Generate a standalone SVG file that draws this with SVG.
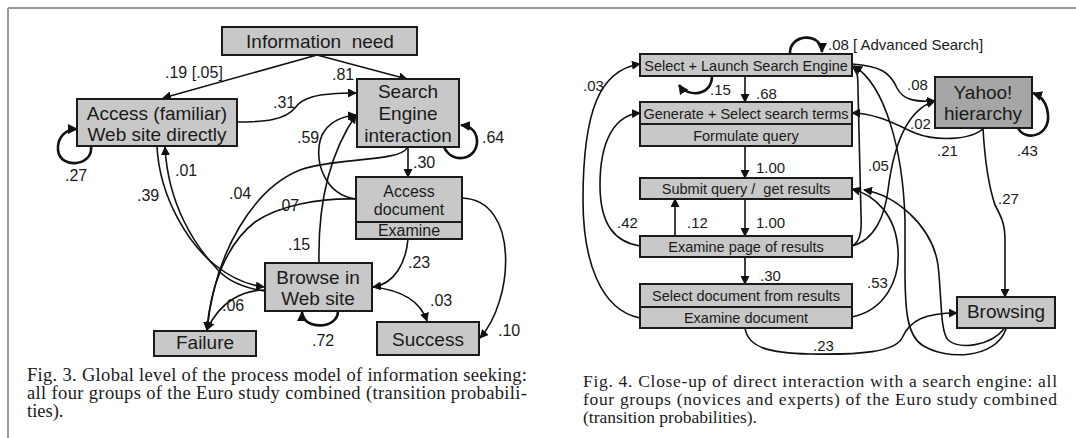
<svg xmlns="http://www.w3.org/2000/svg" width="1076" height="438" viewBox="0 0 1076 438">
  <style>
    .box { fill: #c8c8c8; stroke: #1a1a1a; stroke-width: 2; }
    .dark { fill: #a6a6a6; stroke: #1a1a1a; stroke-width: 2; }
    .big { font-family: "Liberation Sans", Arial, sans-serif; font-size: 19px; fill: #1a1a1a; text-anchor: middle; }
    .mid { font-family: "Liberation Sans", Arial, sans-serif; font-size: 16px; fill: #1a1a1a; text-anchor: middle; }
    .small { font-family: "Liberation Sans", Arial, sans-serif; font-size: 14.5px; fill: #1a1a1a; text-anchor: middle; }
    .lbl { font-family: "Liberation Sans", Arial, sans-serif; font-size: 16px; fill: #1a1a1a; }
    .lbr { font-family: "Liberation Sans", Arial, sans-serif; font-size: 15px; fill: #1a1a1a; }
    .cap3 { font-family: "Liberation Serif", "Times New Roman", serif; font-size: 18.5px; fill: #1a1a1a; }
    .cap4 { font-family: "Liberation Serif", "Times New Roman", serif; font-size: 17.5px; fill: #1a1a1a; }
    .edge { fill: none; stroke: #111; stroke-width: 1.6; }
    .arr { marker-end: url(#ah); }
    .loop { fill: none; stroke: #111; stroke-width: 2.6; marker-end: url(#ahb); }
  </style>
  <defs>
    <marker id="ah" viewBox="0 0 10 10" refX="9" refY="5" markerWidth="9" markerHeight="9" markerUnits="userSpaceOnUse" orient="auto">
      <path d="M0,0 L10,5 L0,10 Z" fill="#111"/>
    </marker>
    <marker id="ahb" viewBox="0 0 10 10" refX="9" refY="5" markerWidth="10" markerHeight="10" markerUnits="userSpaceOnUse" orient="auto">
      <path d="M0,0 L10,5 L0,10 Z" fill="#111"/>
    </marker>
  </defs>

  <rect width="1076" height="438" fill="#ffffff"/>
  <!-- page frame -->
  <g stroke="#9a9a9a" stroke-width="2" fill="none">
    <path d="M8,8 L1076,8"/>
    <path d="M8,8 L8,438"/>
  </g>

  <!-- ===== Fig. 3 : global process model ===== -->
  <g id="connectors-fig3">
    <path class="edge arr" d="M317,55 L163,98"/>
    <path class="edge arr" d="M317,55 L407,79"/>
    <path class="edge arr" d="M237,122 C265,122 285,120 295,108 C302,98 315,93 356,93"/>
    <path class="loop" d="M91,146 C94,166 60,170 58,150 C57,137 66,129 77,129"/>
    <path class="loop" d="M444,147 C452,165 478,160 477,140 C476,130 470,126 461,125"/>
    <path class="edge arr" d="M408,147 L408,177"/>
    <path class="edge arr" d="M407,148 C400,162 330,158 300,170 C255,188 215,250 207,330"/>
    <path class="edge arr" d="M356,199 C320,198 280,205 255,222 C225,245 210,290 207,330"/>
    <path class="edge arr" d="M265,290 C245,290 220,300 207,330"/>
    <path class="edge arr" d="M157,147 C160,200 190,245 215,265 C230,277 248,285 264,287"/>
    <path class="edge arr" d="M264,291 C245,288 228,281 218,270 C195,246 168,205 165,147"/>
    <path class="edge arr" d="M356,199 C325,195 312,160 322,135 C330,120 345,116 356,115"/>
    <path class="edge arr" d="M319,263 C318,215 325,160 356,115"/>
    <path class="edge arr" d="M408,239 C406,262 395,284 373,287"/>
    <path class="edge arr" d="M373,287 C400,290 420,300 427,321"/>
    <path class="edge arr" d="M462,198 C520,200 514,300 480,338"/>
    <path class="loop" d="M338,311 C338,330 302,330 302,312"/>
  </g>

  <g id="info-need">
    <rect class="box" x="222" y="27" width="195" height="28"/>
    <text class="big" x="320" y="48">Information&#160; need</text>
  </g>
  <g id="access-site">
    <rect class="box" x="77" y="99" width="160" height="47"/>
    <text class="big" x="157" y="120">Access (familiar)</text>
    <text class="big" x="157" y="141">Web site directly</text>
  </g>
  <g id="search-engine">
    <rect class="box" x="357" y="79" width="102" height="68"/>
    <text class="big" x="408" y="98">Search</text>
    <text class="big" x="408" y="120">Engine</text>
    <text class="big" x="408" y="142">interaction</text>
  </g>
  <g id="access-document">
    <rect class="box" x="356" y="177" width="106" height="45"/>
    <rect class="box" x="356" y="222" width="106" height="17"/>
    <text class="mid" x="409" y="197">Access</text>
    <text class="mid" x="409" y="215">document</text>
    <text class="mid" x="409" y="236">Examine</text>
  </g>
  <g id="browse-site">
    <rect class="box" x="265" y="263" width="107" height="48"/>
    <text class="big" x="318" y="284">Browse in</text>
    <text class="big" x="318" y="305">Web site</text>
  </g>
  <g id="failure">
    <rect class="box" x="154" y="331" width="102" height="25"/>
    <text class="big" x="205" y="349">Failure</text>
  </g>
  <g id="success">
    <rect class="box" x="377" y="322" width="102" height="33"/>
    <text class="big" x="428" y="346">Success</text>
  </g>

  <g id="labels-fig3" class="lbl">
    <text x="165" y="78">.19 [.05]</text>
    <text x="332" y="80">.81</text>
    <text x="273" y="108">.31</text>
    <text x="65" y="181">.27</text>
    <text x="482" y="143">.64</text>
    <text x="297" y="143">.59</text>
    <text x="413" y="168">.30</text>
    <text x="175" y="176">.01</text>
    <text x="137" y="201">.39</text>
    <text x="229" y="199">.04</text>
    <text x="277" y="211">.07</text>
    <text x="288" y="250">.15</text>
    <text x="408" y="268">.23</text>
    <text x="430" y="306">.03</text>
    <text x="222" y="311">.06</text>
    <text x="312" y="346">.72</text>
    <text x="498" y="336">.10</text>
  </g>

  <g id="caption-fig3" class="cap3">
    <text x="27" y="381" textLength="500" lengthAdjust="spacing">Fig. 3. Global level of the process model of information seeking:</text>
    <text x="27" y="399" textLength="500" lengthAdjust="spacing">all four groups of the Euro study combined (transition probabili-</text>
    <text x="27" y="417">ties).</text>
  </g>

  <!-- ===== Fig. 4 : search engine close-up ===== -->
  <g id="connectors-fig4">
    <path class="loop" d="M790,54 C789,33 822,32 822,52"/>
    <path class="loop" d="M712,76 C712,96 688,98 679,85"/>
    <path class="edge arr" d="M745,76 L745,102"/>
    <path class="edge arr" d="M745,146 L745,178"/>
    <path class="edge arr" d="M745,199 L745,236"/>
    <path class="edge arr" d="M675,236 L675,199"/>
    <path class="edge arr" d="M745,257 L745,284"/>
    <path class="edge arr" d="M640,246 C615,242 600,225 600,185 C600,140 615,115 640,113"/>
    <path class="edge arr" d="M640,318 C600,310 583,260 583,200 C583,110 600,70 640,64"/>
    <path class="edge arr" d="M852,64 C880,66 890,72 897,88 C903,100 915,102 935,101"/>
    <path class="loop" d="M1018,128 C1025,142 1050,136 1048,115 C1047,103 1041,96 1033,93"/>
    <path class="edge arr" d="M984,128 C970,141 935,141 915,133 C895,124 875,113 852,113"/>
    <path class="edge arr" d="M983,128 C985,165 990,190 995,205 C1002,218 1005,225 1005,240 L1005,297"/>
    <path class="edge arr" d="M852,246 C875,240 885,215 888,190 C893,150 905,110 935,101"/>
    <path class="edge arr" d="M852,246 C860,242 862,232 861,215 L858,90 C858,78 858,70 852,66"/>
    <path class="edge arr" d="M852,317 C885,310 900,280 898,250 C896,215 875,195 852,189"/>
    <path class="edge arr" d="M1004,329 C990,346 960,350 948,340 C940,330 942,300 938,265 C932,225 895,195 864,190"/>
    <path class="edge arr" d="M1006,329 C995,360 945,360 922,345 C907,335 905,310 905,270 L905,220 C903,150 885,85 854,66"/>
    <path class="edge arr" d="M745,328 C748,348 770,353 810,354 C860,355 895,352 902,338 C910,320 925,313 957,313"/>
  </g>

  <g id="select-launch">
    <rect class="box" x="640" y="54" width="212" height="22"/>
    <text class="small" x="746" y="71">Select + Launch Search Engine</text>
  </g>
  <g id="generate-terms">
    <rect class="box" x="640" y="102" width="212" height="22"/>
    <rect class="box" x="640" y="124" width="212" height="22"/>
    <text class="small" x="746" y="119">Generate + Select search terms</text>
    <text class="small" x="746" y="141">Formulate query</text>
  </g>
  <g id="submit-query">
    <rect class="box" x="640" y="178" width="212" height="21"/>
    <text class="small" x="746" y="194">Submit query /&#160; get results</text>
  </g>
  <g id="examine-page">
    <rect class="box" x="640" y="236" width="212" height="21"/>
    <text class="small" x="746" y="252">Examine page of results</text>
  </g>
  <g id="select-document">
    <rect class="box" x="640" y="284" width="212" height="23"/>
    <rect class="box" x="640" y="307" width="212" height="21"/>
    <text class="small" x="746" y="301">Select document from results</text>
    <text class="small" x="746" y="323">Examine document</text>
  </g>
  <g id="yahoo">
    <rect class="dark" x="935" y="77" width="97" height="51"/>
    <text class="big" x="983" y="99">Yahoo!</text>
    <text class="big" x="983" y="120">hierarchy</text>
  </g>
  <g id="browsing">
    <rect class="box" x="957" y="297" width="98" height="31"/>
    <text class="big" x="1006" y="318">Browsing</text>
  </g>

  <g id="labels-fig4" class="lbr">
    <text x="828" y="50">.08 [ Advanced Search]</text>
    <text x="583" y="91">.03</text>
    <text x="710" y="95">.15</text>
    <text x="756" y="99">.68</text>
    <text x="756" y="173">1.00</text>
    <text x="617" y="228">.42</text>
    <text x="687" y="228">.12</text>
    <text x="756" y="228">1.00</text>
    <text x="760" y="281">.30</text>
    <text x="907" y="90">.08</text>
    <text x="910" y="129">.02</text>
    <text x="937" y="156">.21</text>
    <text x="1017" y="156">.43</text>
    <text x="868" y="171">.05</text>
    <text x="998" y="204">.27</text>
    <text x="867" y="288">.53</text>
    <text x="813" y="351">.23</text>
  </g>

  <g id="caption-fig4" class="cap4">
    <text x="583" y="387" textLength="474" lengthAdjust="spacing">Fig. 4. Close-up of direct interaction with a search engine: all</text>
    <text x="583" y="405" textLength="474" lengthAdjust="spacing">four groups (novices and experts) of the Euro study combined</text>
    <text x="583" y="423">(transition probabilities).</text>
  </g>
</svg>
